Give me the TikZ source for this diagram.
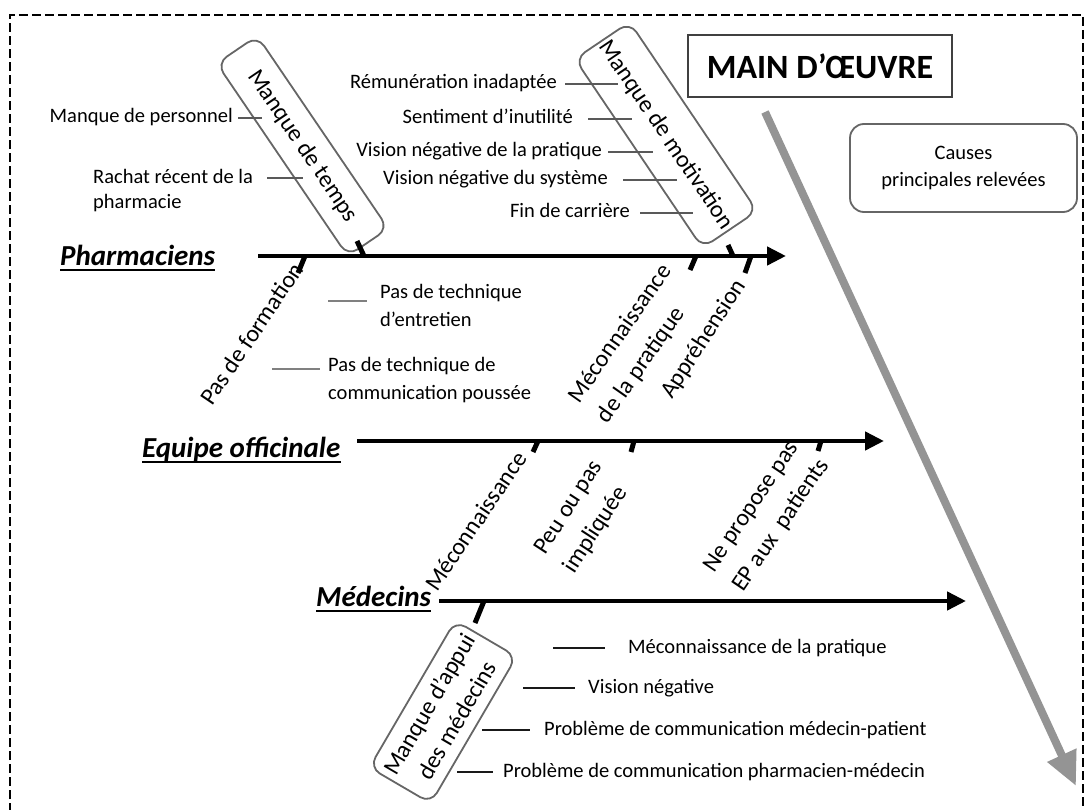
\documentclass[tikz,border=0pt]{standalone}
\usepackage{fontspec}
\setmainfont{Carlito}
\usetikzlibrary{arrows.meta}
\begin{document}
\begin{tikzpicture}[x=1pt,y=-1pt,
  body/.style={font=\fontsize{20.5}{25}\selectfont, inner sep=0pt, text height=14pt, text depth=4pt},
  mbody/.style={font=\fontsize{20.5}{28}\selectfont, inner sep=0pt, align=left},
  rot/.style={font=\fontsize{24}{35}\selectfont, inner sep=0pt, align=left},
  causebox/.style={draw=black!60, line width=1.8pt, rounded corners=12pt, font=\fontsize{24}{30}\selectfont, inner sep=0pt, align=center},
  spine/.style={line width=4.5pt, -{Triangle[length=19pt,width=18pt]}},
  bone/.style={line width=5pt},
  subline/.style={line width=1.8pt, draw=black!65},
  medline/.style={line width=2.2pt, draw=black!90},
  cat/.style={font=\fontsize{29}{32}\selectfont\bfseries\itshape, inner sep=0pt, anchor=base west},
  uline/.style={line width=2pt}
]
\useasboundingbox (0,0) rectangle (1087,810);
% outer dashed frame
\draw[line width=2pt, dash pattern=on 9pt off 4pt] (10,812) -- (10,15) -- (1083,15) -- (1083,812);

% big gray arrow
\coordinate (g1) at (765,112);
\coordinate (g2) at (1076,786);
\draw[line width=8pt, draw=black!42, -{Triangle[length=34pt,width=30pt,fill=black!42]}] (g1) -- (g2);

% title and legend
\node[draw=black!75, line width=1.5pt, minimum width=264pt, minimum height=62pt, font=\fontsize{34}{40}\selectfont\bfseries] (title) at (820,66) {MAIN D’ŒUVRE};
\node[draw=black!60, line width=1.8pt, rounded corners=14pt, minimum width=227pt, minimum height=88pt, align=center, font=\fontsize{20.5}{27}\selectfont] (causes) at (963.5,168) {Causes\\principales relevées};

% spines
\coordinate (ph1) at (258,256); \coordinate (ph2) at (786,256);
\coordinate (eq1) at (357,441); \coordinate (eq2) at (884,441);
\coordinate (md1) at (439,601); \coordinate (md2) at (966,601);
\draw[spine] (ph1) -- (ph2);
\draw[spine] (eq1) -- (eq2);
\draw[spine] (md1) -- (md2);

% category labels
\node[cat] (ph) at (60,266) {Pharmaciens};
\node[cat] (eq) at (142,457) {Equipe officinale};
\node[cat] (md) at (316,606) {Médecins};
\draw[uline] ([yshift=-4pt]ph.base west) -- ([yshift=-4pt]ph.base east);
\draw[uline] ([yshift=-5pt]eq.base west) -- ([yshift=-5pt]eq.base east);
\draw[uline] ([yshift=-5pt]md.base west) -- ([yshift=-5pt]md.base east);

% cause boxes
\node[causebox, rotate=-55.8, minimum width=233pt, minimum height=49pt] (temps) at (302.5,146) {Manque de temps};
\node[causebox, rotate=-56, minimum width=228pt, minimum height=66pt] (motiv) at (666,135) {Manque de motivation};
\node[causebox, rotate=59.7, minimum width=170pt, minimum height=71pt, font=\fontsize{24}{32}\selectfont] (appui) at (443,712) {Manque d’appui\\des médecins};

% rotated cause labels
\node[rot, anchor=base west, rotate=56] (form) at (212,407) {Pas de formation};
\node[rot, rotate=55] (meconp) at (635,344) {Méconnaissance\\de la pratique};
\node[rot, anchor=base west, rotate=57] (appr) at (672,400) {Appréhension};
\node[rot, anchor=base west, rotate=56] (mecone) at (437,593) {Méconnaissance};
\node[rot, rotate=57] (peu) at (584,517) {Peu ou pas\\impliquée};
\node[rot, rotate=56] (nepro) at (767,516) {Ne propose pas\\EP aux\ \ patients};

% bones (stubs)
\coordinate (b1a) at (364,256); \coordinate (b1b) at (357,241);
\coordinate (b2a) at (733,256); \coordinate (b2b) at (728,245);
\coordinate (b3a) at (305,256); \coordinate (b3b) at (298,273);
\coordinate (b4a) at (696,256); \coordinate (b4b) at (690,270);
\coordinate (b5a) at (751,256); \coordinate (b5b) at (745,273);
\coordinate (b6a) at (538,441); \coordinate (b6b) at (533,452);
\coordinate (b7a) at (634,441); \coordinate (b7b) at (631,452);
\coordinate (b8a) at (821,441); \coordinate (b8b) at (818,451);
\coordinate (b9a) at (484,601); \coordinate (b9b) at (475,623);
\foreach \b in {1,...,9} {\draw[bone] (b\b a) -- (b\b b);}

% sub-causes: Manque de temps
\node[body, anchor=east] (t1) at (233,118) {Manque de personnel};
\coordinate (t1e) at (262,118);
\draw[subline] ([xshift=5pt]t1.east) -- (t1e);
\node[font=\fontsize{20.5}{25}\selectfont, inner sep=0pt, align=left, anchor=west] (t2) at (93,191) {Rachat récent de la\\pharmacie};
\coordinate (t2a) at (267,178); \coordinate (t2b) at (303,178);
\draw[subline] (t2a) -- (t2b);

% sub-causes: Manque de motivation
\node[body, anchor=east] (m1) at (557,84) {Rémunération inadaptée};
\node[body, anchor=east] (m2) at (573,119) {Sentiment d’inutilité};
\node[body, anchor=east] (m3) at (602,152) {Vision négative de la pratique};
\node[body, anchor=east] (m4) at (608,180) {Vision négative du système};
\node[body, anchor=east] (m5) at (630,213) {Fin de carrière};
\coordinate (m1e) at (618,84); \coordinate (m2e) at (632,119);
\coordinate (m3e) at (653,152); \coordinate (m4e) at (677,180);
\coordinate (m5e) at (693,213);
\draw[subline] ([xshift=8pt]m1.east) -- (m1e);
\draw[subline] ([xshift=15pt]m2.east) -- (m2e);
\draw[subline] ([xshift=6pt]m3.east) -- (m3e);
\draw[subline] ([xshift=15pt]m4.east) -- (m4e);
\draw[subline] ([xshift=10pt]m5.east) -- (m5e);

% sub-causes: Pas de formation
\node[mbody, anchor=west] (f1) at (380,305) {Pas de technique\\d’entretien};
\node[mbody, anchor=west] (f2) at (328,380) {Pas de technique de\\communication poussée};
\coordinate (f1a) at (328,301); \coordinate (f1b) at (367,301);
\coordinate (f2a) at (272,369); \coordinate (f2b) at (320,369);
\draw[subline, draw=black!50] (f1a) -- (f1b);
\draw[subline, draw=black!50] (f2a) -- (f2b);

% sub-causes: Manque d'appui des medecins
\node[body, anchor=west] (a1) at (628,648) {Méconnaissance de la pratique};
\node[body, anchor=west] (a2) at (588,688) {Vision négative};
\node[body, anchor=west] (a3) at (544,730) {Problème de communication médecin-patient};
\node[body, anchor=west] (a4) at (503,772) {Problème de communication pharmacien-médecin};
\coordinate (a1s) at (553,648); \coordinate (a2s) at (523,688);
\coordinate (a3s) at (482,730); \coordinate (a4s) at (457,772);
\draw[medline] (a1s) -- ([xshift=-23pt]a1.west);
\draw[medline] (a2s) -- ([xshift=-13pt]a2.west);
\draw[medline] (a3s) -- ([xshift=-14pt]a3.west);
\draw[medline] (a4s) -- ([xshift=-10pt]a4.west);
\end{tikzpicture}
\end{document}
